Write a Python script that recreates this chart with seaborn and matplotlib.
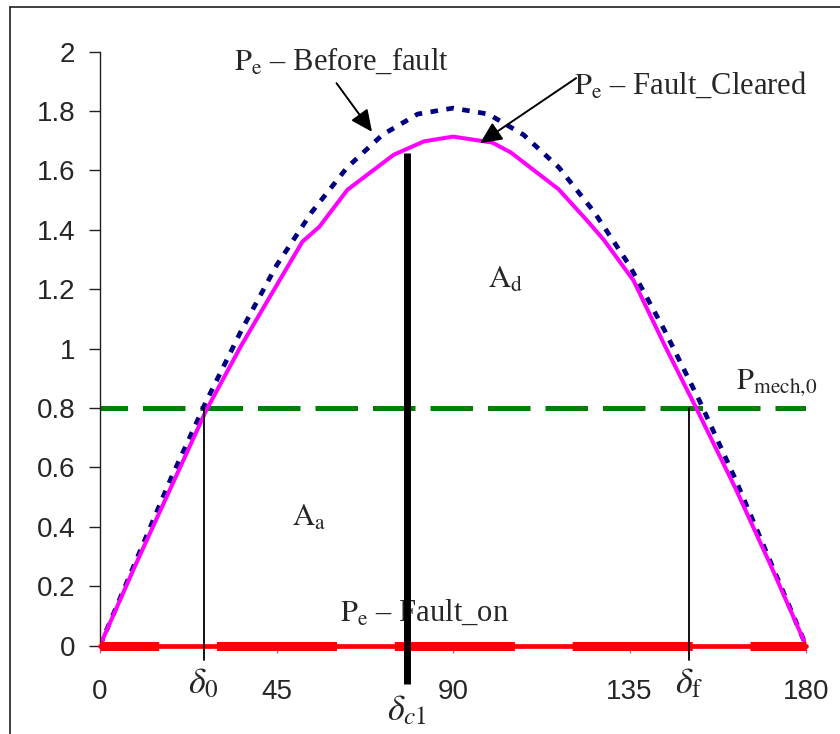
import numpy as np
import matplotlib
matplotlib.use("Agg")
import matplotlib.pyplot as plt
from matplotlib.lines import Line2D
import seaborn as sns

# Power-angle curves (delta in degrees, power in p.u.)
delta_before = [0, 9, 18, 27, 36, 45, 54, 63, 72, 81, 90,
                99, 108, 117, 126, 135, 144, 153, 162, 171, 180]
p_before = [0.0, 0.28, 0.56, 0.82, 1.06, 1.28, 1.46, 1.61, 1.72, 1.79, 1.81,
            1.79, 1.72, 1.61, 1.46, 1.28, 1.06, 0.82, 0.56, 0.28, 0.0]

delta_cleared = [0, 9, 18, 27, 36, 44, 51.6, 55.9, 63.1, 74.9, 82.6, 90,
                 100, 104.7, 116.9, 124.2, 128.4, 136, 144, 152, 162, 171, 180]
p_cleared = [0.0, 0.27, 0.53, 0.79, 1.01, 1.19, 1.36, 1.41, 1.535, 1.653, 1.698, 1.714,
             1.694, 1.661, 1.537, 1.431, 1.367, 1.23, 1.01, 0.80, 0.53, 0.27, 0.0]

delta_on = [0, 180]
p_on = [0.0, 0.0]

delta_mech = [0, 180]
p_mech = [0.8, 0.8]

# Characteristic angles
delta_0 = 26.4
delta_c1 = 78.2
delta_f = 150.2
delta_c1_top = 1.66

x_ticks = [0, 45, 90, 135, 180]
y_ticks = [0, 0.2, 0.4, 0.6, 0.8, 1.0, 1.2, 1.4, 1.6, 1.8, 2.0]

sns.set_theme(style="white")
plt.rcParams["font.family"] = ["Liberation Sans", "DejaVu Sans"]
plt.rcParams["mathtext.fontset"] = "stix"

fig = plt.figure(figsize=(8.4, 7.34), dpi=100)
fig.patch.set_facecolor("white")
ax = fig.add_axes([100 / 840, 88.5 / 734, 706 / 840, 593.8 / 734])
ax.set_facecolor("white")

# Pmech line
sns.lineplot(x=delta_mech, y=p_mech, ax=ax, color="#008000", lw=3.6,
             linestyle=(3.0, (8.5, 3.0)), errorbar=None)

# Before-fault curve
sns.lineplot(x=delta_before, y=p_before, ax=ax, color="#000080", lw=3.4,
             linestyle=(0, (1.6, 1.8)), errorbar=None)

# Post-fault curve
sns.lineplot(x=delta_cleared, y=p_cleared, ax=ax, color="#FF00FF", lw=2.9,
             errorbar=None)

# During-fault curve (zero)
sns.lineplot(x=delta_on, y=p_on, ax=ax, color="#FF0000", lw=3.4,
             errorbar=None, clip_on=False, zorder=4)
sns.lineplot(x=delta_on, y=p_on, ax=ax, color="#FF0000", lw=6.5,
             linestyle=(6.8, (13.3, 6.4)), errorbar=None, clip_on=False, zorder=4)

# Angle markers
ax.plot([delta_0, delta_0], [-0.05, 0.8], color="black", lw=1.3, clip_on=False, zorder=5)
ax.plot([delta_f, delta_f], [-0.05, 0.8], color="black", lw=1.3, clip_on=False, zorder=5)
ax.plot([delta_c1, delta_c1], [-0.13, delta_c1_top], color="black", lw=5.0,
        clip_on=False, solid_capstyle="butt", zorder=5)

ax.set_xlim(0, 180)
ax.set_ylim(0, 2)
ax.set_xticks(x_ticks)
ax.set_xticklabels([str(v) for v in x_ticks])
ax.set_yticks(y_ticks)
ax.set_yticklabels([f"{v:g}" for v in y_ticks])
ax.tick_params(axis="y", direction="out", length=7.7, width=1.0, color="#202020",
               pad=10, labelsize=20, left=True)
ax.tick_params(axis="x", direction="out", length=5, width=1.0, color="#808080",
               pad=19, labelsize=20, bottom=True)
for s in ["top", "right"]:
    ax.spines[s].set_visible(False)
ax.spines["left"].set_color("#202020")
ax.spines["left"].set_linewidth(1.0)
ax.spines["bottom"].set_color("#808080")
ax.spines["bottom"].set_linewidth(1.0)
ax.set_xlabel("")
ax.set_ylabel("")
ax.grid(False)

serif = ["Liberation Serif", "DejaVu Serif"]
fs = 22

# Curve labels
ax.text(34.2, 1.965, r"$\mathrm{P_e}$ – Before_fault", fontsize=fs, family=serif,
        ha="left", va="center", clip_on=False)
ax.text(120.8, 1.885, r"$\mathrm{P_e}$ – Fault_Cleared", fontsize=fs, family=serif,
        ha="left", va="center", clip_on=False)
ax.text(61.3, 0.11, r"$\mathrm{P_e}$ – Fault_on", fontsize=fs, family=serif,
        ha="left", va="center")
ax.text(99.0, 1.23, r"$\mathrm{A_d}$", fontsize=fs, family=serif, ha="left", va="center")
ax.text(49.0, 0.43, r"$\mathrm{A_a}$", fontsize=fs, family=serif, ha="left", va="center")
ax.text(162.2, 0.885, r"$\mathrm{P}_{\mathrm{mech},\!\mathrm{0}}$", fontsize=fs,
        family=serif, ha="left", va="center", clip_on=False)

# Arrows pointing at the curves
arrow_kw = dict(arrowstyle="-|>,head_length=0.6,head_width=0.28", color="black",
                lw=1.4, mutation_scale=22, shrinkA=0, shrinkB=0)
ax.annotate("", xy=(69.35, 1.73), xytext=(60.3, 1.894), arrowprops=arrow_kw,
            annotation_clip=False)
ax.annotate("", xy=(96.9, 1.692), xytext=(121.4, 1.911), arrowprops=arrow_kw,
            annotation_clip=False)

# Angle labels under the axis
ax.text(delta_0, -0.13, r"$\delta_{\mathrm{0}}$", fontsize=26, ha="center", va="center")
ax.text(delta_f, -0.13, r"$\delta_{\mathrm{f}}$", fontsize=26, ha="center", va="center")
ax.text(delta_c1, -0.22, r"$\delta_{c1}$", fontsize=26, ha="center", va="center")

# Outer frame
fig.add_artist(Line2D([10 / 840, 1.0], [1 - 7 / 734, 1 - 7 / 734], color="#202020", lw=1.2))
fig.add_artist(Line2D([10 / 840, 10 / 840], [0.0, 1 - 7 / 734], color="#202020", lw=1.2))

fig.savefig("out.png", dpi=100, facecolor="white")
